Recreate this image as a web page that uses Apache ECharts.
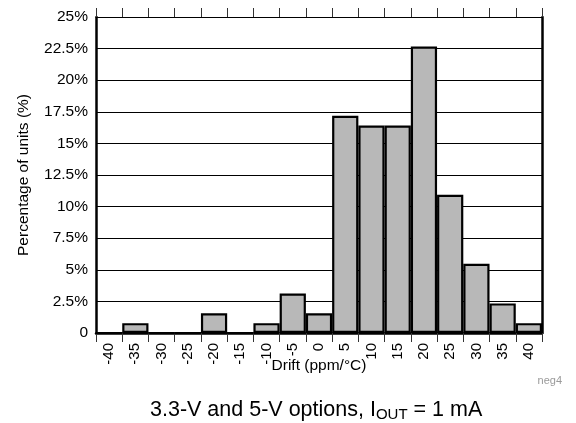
<!DOCTYPE html>
<html>
<head>
<meta charset="utf-8">
<script src="https://cdn.jsdelivr.net/npm/echarts@6/dist/echarts.min.js"></script>
<style>html,body{margin:0;padding:0;background:#fff}#c{width:576px;height:423px}</style>
</head>
<body>
<div id="c"></div>
<script>
var categories = ['-40','-35','-30','-25','-20','-15','-10','-5','0','5','10','15','20','25','30','35','40'];
var percentUnits = [0, 0.78, 0, 0, 1.56, 0, 0.78, 3.13, 1.56, 17.19, 16.41, 16.41, 22.66, 10.94, 5.47, 2.34, 0.78];
var yTicks = [0, 2.5, 5, 7.5, 10, 12.5, 15, 17.5, 20, 22.5, 25];

var FONT = 'Liberation Sans, Arial, Helvetica, sans-serif';
var chart = echarts.init(document.getElementById('c'), null, {renderer: 'canvas'});
chart.setOption({
  animation: false,
  backgroundColor: '#fff',
  title: {
    text: '3.3-V and 5-V options, I{sub|OUT} = 1 mA',
    left: 145, top: 393,
    textStyle: {
      fontFamily: FONT, fontSize: 21.5, fontWeight: 'normal', color: '#000',
      rich: { sub: { fontFamily: FONT, fontSize: 15, color: '#000', verticalAlign: 'bottom', padding: [9, 0, 0, 0] } }
    }
  },
  graphic: [{
    type: 'text', right: 14, top: 375,
    style: { text: 'neg4', fill: '#9a9a9a', font: '11px ' + FONT }
  }],
  grid: { left: 96, right: 34, top: 17, bottom: 90, containLabel: false },
  xAxis: [{
    type: 'category',
    data: categories,
    position: 'bottom',
    boundaryGap: true,
    name: 'Drift (ppm/\u00B0C)',
    nameLocation: 'middle',
    nameGap: 25,
    nameMoveOverlap: false,
    nameTextStyle: { fontFamily: FONT, fontSize: 15.5, color: '#000' },
    axisLine: { show: true, onZero: false, lineStyle: { color: '#000', width: 2.5 } },
    axisTick: { show: true, alignWithLabel: false, interval: 0, length: 9, lineStyle: { color: '#333', width: 1 } },
    axisLabel: { interval: 0, rotate: 90, margin: 10, fontFamily: FONT, fontSize: 15, color: '#000' },
    splitLine: { show: false }
  }, {
    type: 'category',
    data: categories,
    position: 'top',
    boundaryGap: true,
    axisLine: { show: true, onZero: false, lineStyle: { color: '#000', width: 1.2 } },
    axisTick: { show: true, alignWithLabel: false, interval: 0, length: 9, lineStyle: { color: '#333', width: 1 } },
    axisLabel: { show: false },
    splitLine: { show: false }
  }],
  yAxis: [{
    type: 'value',
    min: 0, max: 25, interval: 2.5,
    name: 'Percentage of units (%)',
    nameLocation: 'middle',
    nameGap: 64,
    nameMoveOverlap: false,
    nameTextStyle: { fontFamily: FONT, fontSize: 15.5, color: '#000' },
    axisLine: { show: true, lineStyle: { color: '#000', width: 2.5 } },
    axisTick: { show: false },
    axisLabel: {
      margin: 8, fontFamily: FONT, fontSize: 15.5, color: '#000',
      formatter: function (v) { return v === 0 ? '0' : v + '%'; }
    },
    splitLine: { show: true, lineStyle: { color: '#000', width: 1 } }
  }, {
    type: 'value',
    min: 0, max: 25, interval: 2.5,
    position: 'right',
    axisLine: { show: true, lineStyle: { color: '#000', width: 2.5 } },
    axisTick: { show: false },
    axisLabel: { show: false },
    splitLine: { show: false }
  }],
  series: [{
    type: 'bar',
    data: percentUnits,
    xAxisIndex: 0,
    yAxisIndex: 0,
    barWidth: '100%',
    barGap: '0%',
    itemStyle: { color: '#b8b8b8', borderColor: '#000', borderWidth: 2.2 },
    z: 3
  }]
});
</script>
</body>
</html>
